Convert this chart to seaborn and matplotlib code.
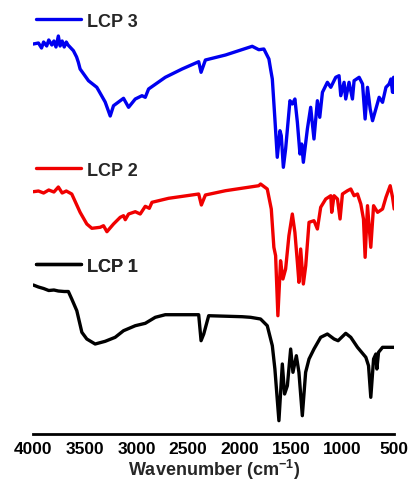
import numpy as np
import pandas as pd
import matplotlib
matplotlib.use("Agg")
import matplotlib.pyplot as plt
from matplotlib.lines import Line2D
from matplotlib.ticker import MultipleLocator
import seaborn as sns

# ---- data (wavenumber cm^-1, offset transmittance a.u.) ----
lcp3_wn = [4000, 3950, 3920, 3900, 3870, 3850, 3820, 3800, 3780, 3757, 3740, 3720, 3700, 3680,
           3663, 3611, 3580, 3563, 3546, 3465, 3384,
           3303, 3254, 3222, 3125, 3076, 3011, 2946, 2914, 2882, 2720, 2557, 2396, 2373, 2331,
           2136, 1877, 1813, 1764, 1715, 1699, 1682, 1657, 1634, 1608, 1595, 1575, 1553, 1511,
           1488, 1463, 1439, 1414, 1397, 1381, 1342, 1310, 1278, 1245, 1222, 1196, 1148, 1115,
           1067, 1035, 1018, 986, 970, 938, 905, 889, 840, 807, 782, 759, 733, 710, 678, 646,
           613, 580, 549, 532, 516, 506, 500]
lcp3_t = [390, 391, 386, 392, 388, 394, 389, 393, 387, 398, 388, 393, 387, 392,
          389, 383.3, 377, 371.7, 365, 353.3, 346.7,
          332, 318, 328.3, 335.7, 326.7, 335, 338.3, 336.7, 345, 356.7, 365, 372.3, 361.7, 374,
          379, 387.7, 384.3, 385, 375, 365, 355, 315, 276.7, 303.3, 298.3, 266.7, 285, 333.3,
          330, 335, 311.7, 280, 290, 271.7, 305, 326.7, 295, 333.3, 316.7, 341.7, 351.7, 346.7,
          356.7, 358.3, 338.3, 351.7, 335, 351.7, 335, 353.3, 356.7, 350, 315, 346.7, 325, 313.3,
          325, 336.7, 331.7, 346.7, 350, 355, 341.7, 356.7, 341.7]

lcp2_wn = [4000, 3950, 3900, 3850, 3800, 3757, 3720, 3680, 3627, 3546, 3481, 3432, 3352, 3319,
           3286, 3222, 3157, 3125, 3108, 3076, 3011, 2963, 2914, 2875, 2849, 2688, 2396, 2370,
           2331, 2136, 1813, 1796, 1731, 1692, 1667, 1650, 1628, 1602, 1579, 1553, 1521, 1488,
           1463, 1439, 1424, 1407, 1381, 1358, 1326, 1278, 1245, 1213, 1164, 1115, 1106, 1083,
           1050, 1025, 1002, 953, 921, 889, 856, 824, 798, 782, 759, 727, 700, 661, 613, 580,
           539, 516, 500]
lcp2_t = [242.3, 243, 241, 244, 242, 247, 241, 243, 240, 221.7, 210, 205.7, 206.7, 208.3,
          202.3, 210, 216.7, 218.3, 214.3, 220, 222.3, 220, 227.7, 225.7, 231.7, 235.7, 240, 229,
          239, 243.3, 248.3, 250, 245, 225, 186.7, 178.3, 118.3, 173.3, 155, 165, 198.3, 220,
          201.7, 171.7, 151.7, 185, 150, 168.3, 211.7, 213.3, 205, 226.7, 235, 238.3, 221.7, 238.3,
          235, 215, 240, 243.3, 245, 238.3, 240, 230, 215, 176.7, 228.3, 186.7, 228.3, 221.7, 225,
          236.7, 248.3, 236.7, 225]

lcp1_wn = [4000, 3950, 3900, 3850, 3800, 3757, 3700, 3660, 3627, 3578, 3529, 3481, 3400, 3303,
           3206, 3125, 3011, 2914, 2817, 2720, 2396, 2373, 2347, 2299, 1974, 1893, 1796, 1731,
           1682, 1657, 1618, 1585, 1563, 1536, 1504, 1482, 1449, 1424, 1391, 1359, 1326, 1278,
           1213, 1148, 1083, 1044, 970, 921, 856, 775, 749, 727, 700, 678, 668, 652, 613, 500]
lcp1_t = [149, 147, 145.5, 143.5, 144, 143, 142.5, 142.5, 135, 123.3, 101.7, 95, 90, 92.7,
          96.7, 103.3, 108.3, 110.7, 116.7, 119.3, 119.3, 93.3, 100, 118.3, 117.3, 116.7, 115, 108.3,
          88.3, 65, 13.3, 70, 40, 48.3, 85, 61.7, 78.3, 61.7, 18.3, 61.7, 75, 85,
          96.7, 100, 95, 93.3, 100.7, 96.7, 86.7, 76.7, 68.3, 36.7, 75, 80, 65, 81.7, 86.7, 86.7]

labels = ["LCP 3", "LCP 2", "LCP 1"]
colors = ["#0000f0", "#f00000", "#000000"]
xticks = [4000, 3500, 3000, 2500, 2000, 1500, 1000, 500]

frames = []
for lab, wn, t in zip(labels, [lcp3_wn, lcp2_wn, lcp1_wn], [lcp3_t, lcp2_t, lcp1_t]):
    frames.append(pd.DataFrame({"wn": wn, "t": t, "sample": lab}))
df = pd.concat(frames, ignore_index=True)

sns.set_style("white")
plt.rcParams["font.family"] = ["Liberation Sans", "DejaVu Sans"]
plt.rcParams["mathtext.fontset"] = "custom"
plt.rcParams["mathtext.bf"] = "Liberation Sans:bold"
plt.rcParams["mathtext.rm"] = "Liberation Sans"

fig = plt.figure(figsize=(4.12, 4.89), dpi=100)
ax = fig.add_axes([0.0808, 0.1104, 0.876, 0.8896])

for lab, col in zip(labels, colors):
    sub = df[df["sample"] == lab]
    sns.lineplot(data=sub, x="wn", y="t", ax=ax, color=col, lw=2.4,
                 estimator=None, sort=False, legend=False)

ax.set_xlim(4000, 500)
ax.set_ylim(0, 435)
ax.set_xticks(xticks)
ax.xaxis.set_minor_locator(MultipleLocator(250))
ax.set_yticks([])
for s in ["top", "right", "left"]:
    ax.spines[s].set_visible(False)
ax.spines["bottom"].set_linewidth(2.0)
ax.spines["bottom"].set_color("black")
ax.tick_params(axis="x", which="major", direction="in", length=7, width=2.0,
               labelsize=12.5, pad=5, colors="black")
ax.tick_params(axis="x", which="minor", direction="in", length=4, width=1.6, colors="black")
for t in ax.get_xticklabels():
    t.set_fontweight("bold")
ax.set_xlabel(r"Wavenumber (cm$^{\mathbf{-1}}$)", fontsize=13, fontweight="bold", labelpad=1)
ax.set_ylabel("")

leg_y = [413, 264, 168]
for lab, col, yy in zip(labels, colors, leg_y):
    h = Line2D([], [], color=col, lw=2.4)
    lg = ax.legend([h], [lab], loc="center left",
                   bbox_to_anchor=(0.0075, yy / 435.0), bbox_transform=ax.transAxes,
                   frameon=False, handlelength=2.5, handletextpad=0.3,
                   borderpad=0, borderaxespad=0,
                   prop={"weight": "bold", "size": 13})
    ax.add_artist(lg)

fig.savefig("out.png", dpi=100)
